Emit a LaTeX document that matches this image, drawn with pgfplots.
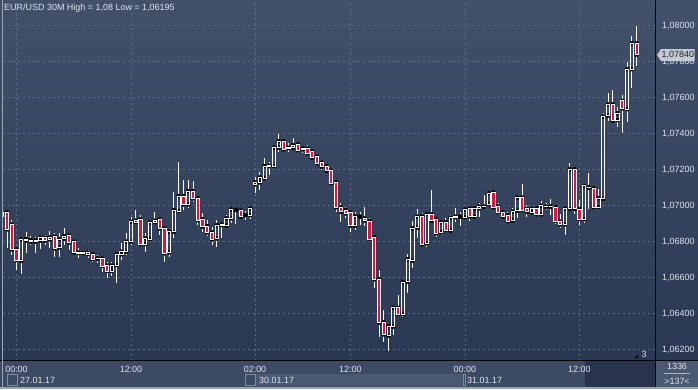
\documentclass[border=0pt]{standalone}
\usepackage{fontspec}
\setmainfont{Liberation Sans}
\usepackage{pgfplots}
\usepackage{pgfplotstable}
\pgfplotsset{compat=1.18}
\definecolor{bgtop}{HTML}{43506A}
\definecolor{bgbot}{HTML}{2B3853}
\definecolor{panel}{HTML}{3C4A64}
\definecolor{band}{HTML}{4A5872}
\definecolor{darkband}{HTML}{28344D}
\definecolor{gridc}{HTML}{5C6C87}
\definecolor{candred}{HTML}{E0143C}
\definecolor{txt}{HTML}{DDE4EE}
\definecolor{tagfill}{HTML}{C3CAD4}
\definecolor{frame}{HTML}{9AA5B4}

% EUR/USD 30M candles: index (30-minute bars, 0 = 00:00 27.01.17), open, high, low, close
\pgfplotstableread{
i o h l c
-3 1.06939 1.06965 1.06935 1.06961
-2 1.06963 1.06965 1.06763 1.06868
-1 1.06896 1.06920 1.06726 1.06757
0 1.06757 1.06760 1.06643 1.06698
1 1.06694 1.06815 1.06618 1.06813
2 1.06806 1.06852 1.06735 1.06815
3 1.06809 1.06833 1.06781 1.06800
4 1.06800 1.06828 1.06735 1.06809
5 1.06806 1.06831 1.06761 1.06822
6 1.06822 1.06837 1.06781 1.06806
7 1.06813 1.06857 1.06763 1.06824
8 1.06828 1.06846 1.06713 1.06763
9 1.06768 1.06846 1.06717 1.06813
10 1.06817 1.06874 1.06781 1.06831
11 1.06835 1.06846 1.06754 1.06796
12 1.06800 1.06809 1.06726 1.06739
13 1.06739 1.06763 1.06711 1.06737
14 1.06737 1.06754 1.06726 1.06739
15 1.06731 1.06754 1.06707 1.06739
16 1.06730 1.06739 1.06689 1.06704
17 1.06706 1.06726 1.06680 1.06707
18 1.06707 1.06717 1.06633 1.06665
19 1.06667 1.06689 1.06596 1.06637
20 1.06637 1.06689 1.06609 1.06668
21 1.06670 1.06744 1.06568 1.06730
22 1.06730 1.06791 1.06698 1.06744
23 1.06744 1.06846 1.06726 1.06800
24 1.06800 1.06939 1.06781 1.06911
25 1.06907 1.06976 1.06893 1.06917
26 1.06924 1.06948 1.06781 1.06787
27 1.06787 1.06846 1.06744 1.06818
28 1.06813 1.06920 1.06800 1.06907
29 1.06907 1.06965 1.06893 1.06917
30 1.06924 1.06939 1.06837 1.06874
31 1.06874 1.06883 1.06689 1.06735
32 1.06741 1.06865 1.06717 1.06855
33 1.06855 1.07078 1.06818 1.06976
34 1.06970 1.07244 1.06966 1.07054
35 1.07054 1.07142 1.06976 1.07007
36 1.07007 1.07142 1.06985 1.07081
37 1.07081 1.07137 1.07022 1.07041
38 1.07041 1.07045 1.06892 1.06920
39 1.06924 1.06957 1.06855 1.06883
40 1.06887 1.06920 1.06831 1.06852
41 1.06852 1.06883 1.06781 1.06813
42 1.06818 1.06920 1.06772 1.06892
43 1.06892 1.06902 1.06822 1.06895
44 1.06889 1.06948 1.06878 1.06930
45 1.06930 1.06989 1.06902 1.06979
46 1.06976 1.06981 1.06898 1.06976
47 1.06974 1.06985 1.06930 1.06939
48 1.06948 1.06970 1.06920 1.06948
49 1.06948 1.06994 1.06926 1.06985
50 1.07118 1.07161 1.07072 1.07129
51 1.07129 1.07189 1.07087 1.07157
52 1.07152 1.07263 1.07142 1.07220
53 1.07220 1.07244 1.07170 1.07222
54 1.07220 1.07328 1.07216 1.07322
55 1.07322 1.07396 1.07300 1.07359
56 1.07359 1.07365 1.07304 1.07313
57 1.07320 1.07346 1.07300 1.07322
58 1.07322 1.07374 1.07313 1.07337
59 1.07341 1.07346 1.07300 1.07309
60 1.07318 1.07328 1.07291 1.07313
61 1.07318 1.07337 1.07281 1.07291
62 1.07300 1.07309 1.07254 1.07266
63 1.07272 1.07281 1.07226 1.07235
64 1.07239 1.07248 1.07198 1.07216
65 1.07220 1.07226 1.07185 1.07194
66 1.07194 1.07200 1.07109 1.07124
67 1.07130 1.07133 1.06966 1.06991
68 1.06991 1.07013 1.06911 1.06966
69 1.06976 1.06994 1.06933 1.06957
70 1.06963 1.06966 1.06855 1.06889
71 1.06889 1.06966 1.06865 1.06942
72 1.06939 1.06963 1.06892 1.06939
73 1.06929 1.06991 1.06887 1.06917
74 1.06915 1.06930 1.06805 1.06815
75 1.06824 1.06828 1.06541 1.06591
76 1.06592 1.06642 1.06272 1.06350
77 1.06352 1.06420 1.06244 1.06285
78 1.06278 1.06337 1.06195 1.06331
79 1.06328 1.06439 1.06281 1.06433
80 1.06433 1.06504 1.06383 1.06396
81 1.06398 1.06578 1.06383 1.06574
82 1.06578 1.06731 1.06516 1.06702
83 1.06694 1.06915 1.06655 1.06874
84 1.06878 1.06980 1.06818 1.06939
85 1.06942 1.06957 1.06776 1.06785
86 1.06791 1.06961 1.06768 1.06954
87 1.06952 1.07087 1.06902 1.06917
88 1.06924 1.06933 1.06828 1.06847
89 1.06852 1.06921 1.06837 1.06908
90 1.06908 1.06930 1.06859 1.06865
91 1.06861 1.06948 1.06855 1.06933
92 1.06936 1.06985 1.06911 1.06939
93 1.06939 1.06963 1.06889 1.06939
94 1.06935 1.06995 1.06926 1.06980
95 1.06985 1.06991 1.06917 1.06939
96 1.06939 1.06989 1.06930 1.06985
97 1.06985 1.07013 1.06939 1.06995
98 1.06994 1.07060 1.06985 1.06995
99 1.07009 1.07078 1.07004 1.07069
100 1.07074 1.07087 1.06985 1.06991
101 1.06995 1.07013 1.06948 1.06963
102 1.06963 1.06976 1.06930 1.06939
103 1.06948 1.06967 1.06907 1.06915
104 1.06917 1.06989 1.06902 1.06967
105 1.06972 1.07050 1.06930 1.07045
106 1.07045 1.07119 1.06967 1.06976
107 1.06982 1.07004 1.06939 1.06967
108 1.06963 1.06995 1.06957 1.06982
109 1.06985 1.06995 1.06945 1.06952
110 1.06952 1.07026 1.06948 1.07000
111 1.06994 1.07013 1.06976 1.06995
112 1.06995 1.07037 1.06948 1.06994
113 1.06991 1.07000 1.06896 1.06915
114 1.06911 1.06952 1.06874 1.06896
115 1.06896 1.06991 1.06837 1.06985
116 1.06982 1.07236 1.06976 1.07202
117 1.07202 1.07204 1.06954 1.06982
118 1.06980 1.07032 1.06893 1.06925
119 1.06925 1.07119 1.06902 1.07110
120 1.07100 1.07180 1.06980 1.07102
121 1.07097 1.07106 1.06982 1.06991
122 1.06991 1.07091 1.06976 1.07041
123 1.07038 1.07513 1.07032 1.07495
124 1.07500 1.07625 1.07473 1.07563
125 1.07563 1.07643 1.07458 1.07471
126 1.07476 1.07547 1.07439 1.07513
127 1.07582 1.07615 1.07406 1.07541
128 1.07536 1.07797 1.07467 1.07758
129 1.07758 1.07943 1.07656 1.07902
130 1.07902 1.08000 1.07778 1.07840
}\candles

% prices are plotted relative to 1.06 (y = price - 1.06)
\pgfplotsset{candleaxis/.style={at={(3bp,28.5bp)}, anchor=south west,
  scale only axis, width=652.5bp, height=357.5bp,
  xmin=-2.83, xmax=133.96, ymin=0.00140, ymax=0.02126, clip=true,
  scaled y ticks=false, scaled x ticks=false}}

\begin{document}
\begin{tikzpicture}[x=1bp,y=1bp,font=\fontsize{9}{10.5}\selectfont]
\useasboundingbox (0,0) rectangle (698,389);
\fill[panel] (0,0) rectangle (698,389);
\shade[top color=bgtop, bottom color=bgbot] (0,28.5) rectangle (698,389);
% bottom panel date bands
\fill[band] (255,3.3) rectangle (463,14.7);
\fill[darkband] (585,2) rectangle (655.5,28);
\draw[band!70!white, line width=0.5] (7.5,3.3) rectangle (17,14.7);
\draw[band!70!white, line width=0.5] (245.5,3.3) rectangle (255,14.7);
\draw[band!70!white, line width=0.5] (463.5,3.3) rectangle (465,14.7);
\fill[band] (655.5,0) rectangle (698,28.5);

\begin{axis}[candleaxis,
  axis line style={draw=none}, major tick length=0pt,
  grid=major, grid style={gridc, dash pattern=on 2bp off 3bp, line width=0.6bp},
  xtick={0,24,50,70,94,118},
  xticklabels={00:00,12:00,02:00,12:00,00:00,12:00},
  xticklabel style={anchor=center, yshift=-8.5bp, text=txt, inner sep=0pt},
  ytick={0.002,0.004,0.006,0.008,0.010,0.012,0.014,0.016,0.018,0.020},
  yticklabels={{1,06200},{1,06400},{1,06600},{1,06800},{1,07000},{1,07200},{1,07400},{1,07600},{1,07800},{1,08000}},
  yticklabel pos=right,
  yticklabel style={anchor=west, xshift=6.5bp, text=txt, inner sep=0pt},
]
\addplot [only marks, mark=none,
  error bars/.cd, y dir=plus, y explicit, error mark=none,
  error bar style={draw=white, line width=0.9bp}]
  table [x=i, y expr={max(\thisrow{o},\thisrow{c})-1.06},
         y error plus expr={\thisrow{h}-max(\thisrow{o},\thisrow{c})}] {\candles};
\addplot [only marks, mark=none,
  error bars/.cd, y dir=minus, y explicit, error mark=none,
  error bar style={draw=white, line width=0.9bp}]
  table [x=i, y expr={min(\thisrow{o},\thisrow{c})-1.06},
         y error minus expr={min(\thisrow{o},\thisrow{c})-\thisrow{l}}] {\candles};
\end{axis}

\begin{axis}[candleaxis, hide axis, ybar stacked, bar width=3.2bp]
\addplot [draw=none, fill=none] table [x=i, y expr={min(\thisrow{o},\thisrow{c})-1.06}] {\candles};
\addplot [draw=white, fill=none, line width=0.9bp] table [x=i, y expr={max(\thisrow{c}-\thisrow{o},0)}] {\candles};
\addplot [draw=white, fill=candred, line width=0.9bp] table [x=i, y expr={max(\thisrow{o}-\thisrow{c},0)}] {\candles};
\end{axis}

% separators and frame
\draw[black, line width=1.2] (0,28.5) -- (698,28.5);
\draw[black, line width=1.2] (655.5,0) -- (655.5,389);
\fill[frame] (0,0) rectangle (698,1.8);
\fill[frame] (1.6,0) rectangle (2.6,389);

% texts
\node[anchor=west, text=txt, inner sep=0] at (4,381) {EUR/USD 30M High = 1,08 Low = 1,06195};
\node[anchor=west, text=txt, inner sep=0] at (20,9) {27.01.17};
\node[anchor=west, text=txt, inner sep=0] at (259,9) {30.01.17};
\node[anchor=west, text=txt, inner sep=0] at (467,9) {31.01.17};
\node[text=txt, inner sep=0] at (677,22.3) {1336};
\draw[txt!70!panel, line width=0.6] (664,15.7) -- (690,15.7);
\node[text=txt, inner sep=0] at (677,8) {>137<};
\fill[black!55!bgbot] (633,30.5) -- (638.5,30.5) -- (638.5,35) -- cycle;
\node[text=txt, inner sep=0] at (644,34.5) {3};
% last price tag
\fill[tagfill] (657,334) -- (661,340) -- (694.5,340) -- (694.5,328) -- (661,328) -- cycle;
\node[text=black!85, inner sep=0] at (677.8,334) {1,07840};
\end{tikzpicture}
\end{document}
